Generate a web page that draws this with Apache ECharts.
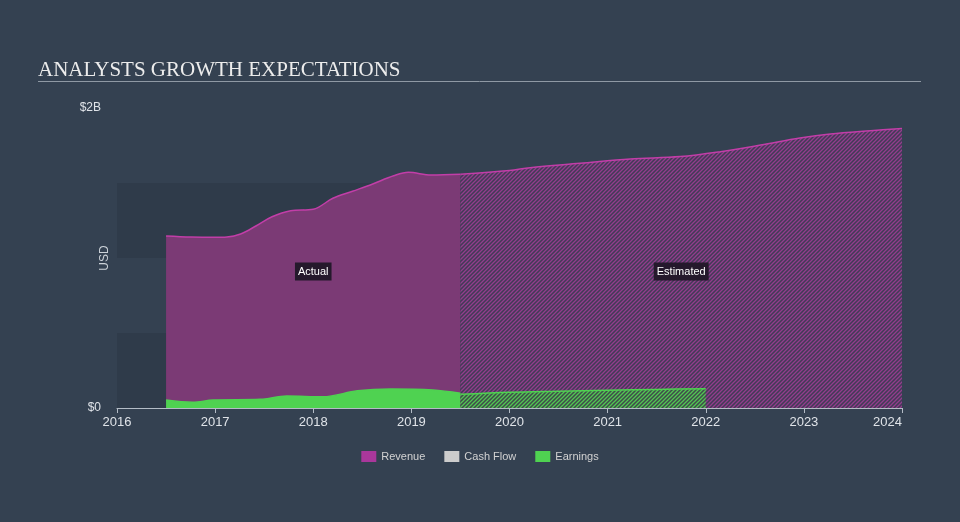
<!DOCTYPE html>
<html>
<head>
<meta charset="utf-8">
<script src="https://cdn.jsdelivr.net/npm/echarts@6/dist/echarts.min.js"></script>
<style>
html,body{margin:0;padding:0;background:#344151;}
#c{width:960px;height:522px;}
</style>
</head>
<body>
<div id="c"></div>
<script>
// ---- data (values in $ billions, x in fractional years) ----
const yearTicks = [2016, 2017, 2018, 2019, 2020, 2021, 2022, 2023, 2024];
const revActualYears = [2016.5, 2016.75, 2017.0, 2017.12, 2017.26, 2017.42, 2017.58, 2017.77, 2018.0, 2018.2, 2018.4, 2018.6, 2018.82, 2018.97, 2019.2, 2019.5];
const revActual      = [1.147, 1.140, 1.138, 1.140, 1.160, 1.215, 1.275, 1.315, 1.325, 1.398, 1.445, 1.492, 1.548, 1.571, 1.553, 1.558];
const revEstYears = [2019.5, 2020.0, 2020.21, 2020.72, 2021.23, 2021.74, 2022.15, 2022.56, 2022.96, 2023.27, 2023.68, 2024.0];
const revEst      = [1.558, 1.583, 1.602, 1.631, 1.660, 1.676, 1.709, 1.753, 1.800, 1.827, 1.849, 1.864];
const earnActualYears = [2016.5, 2016.77, 2016.98, 2017.46, 2017.73, 2018.1, 2018.45, 2018.79, 2019.22, 2019.5];
const earnActual      = [0.053, 0.038, 0.053, 0.058, 0.080, 0.075, 0.115, 0.127, 0.120, 0.098];
const earnEstYears = [2019.5, 2020.0, 2020.5, 2021.0, 2021.5, 2022.0];
const earnEst      = [0.091, 0.105, 0.112, 0.118, 0.124, 0.129];
const cashFlow = [];
const regionLabels = ['Actual', 'Estimated'];
const labelLevel = 0.91;

function pairs(xs, ys) { return xs.map((x, i) => [x, ys[i]]); }

function hatch(bg, fg) {
  const s = 4;
  const c = document.createElement('canvas');
  c.width = s; c.height = s;
  const ctx = c.getContext('2d');
  ctx.fillStyle = bg; ctx.fillRect(0, 0, s, s);
  ctx.strokeStyle = fg; ctx.lineWidth = 1.3;
  ctx.beginPath();
  ctx.moveTo(-1, s + 1); ctx.lineTo(s + 1, -1);
  ctx.moveTo(-1, 1); ctx.lineTo(1, -1);
  ctx.moveTo(s - 1, s + 1); ctx.lineTo(s + 1, s - 1);
  ctx.stroke();
  return { image: c, repeat: 'repeat' };
}

const actualMid = (revActualYears[0] + revActualYears[revActualYears.length - 1]) / 2;
const estMid = (revEstYears[0] + revEstYears[revEstYears.length - 1]) / 2;

const REV_LEGEND = '#a9379b', REV_LINE = '#c23ea8', REV_FILL = '#7b3a75';
const EARN = '#4fd251';

const labelStyle = {
  show: true, color: '#ffffff', fontSize: 11, fontFamily: 'Arial, Liberation Sans, sans-serif',
  backgroundColor: '#25192c', padding: [4, 3, 3, 3], formatter: p => p.name
};

const chart = echarts.init(document.getElementById('c'), null, { renderer: 'canvas' });
chart.setOption({
  backgroundColor: '#344151',
  animation: false,
  title: {
    text: 'ANALYSTS GROWTH EXPECTATIONS', left: 33, top: 55,
    textStyle: { fontFamily: 'Liberation Serif', fontWeight: 'normal', fontSize: 21, color: '#ececec' }
  },
  graphic: [{
    type: 'line', shape: { x1: 38, y1: 81.5, x2: 921, y2: 81.5 },
    style: { stroke: '#8f99a4', lineWidth: 1 }
  }],
  legend: {
    bottom: 55, left: 'center', itemWidth: 15, itemHeight: 11, itemGap: 19, icon: 'rect',
    textStyle: { color: '#d2d2d2', fontSize: 11, fontFamily: 'Arial, Liberation Sans, sans-serif' },
    data: ['Revenue', 'Cash Flow', 'Earnings']
  },
  grid: { left: 117, right: 58, top: 108, bottom: 114 },
  xAxis: {
    type: 'value', min: yearTicks[0], max: yearTicks[yearTicks.length - 1], interval: 1,
    axisLine: { show: true, lineStyle: { color: '#b4bcc6', width: 1 } },
    axisTick: { show: true, length: 5, lineStyle: { color: '#b4bcc6' } },
    splitLine: { show: false },
    axisLabel: {
      color: '#dfe3e8', fontSize: 13, margin: 8, fontFamily: 'Arial, Liberation Sans, sans-serif',
      formatter: v => String(Math.round(v)), alignMaxLabel: 'right'
    }
  },
  yAxis: {
    type: 'value', min: 0, max: 2, interval: 0.5,
    name: 'USD', nameLocation: 'middle', nameGap: 6, nameMoveOverlap: false,
    nameTextStyle: { color: '#ccd2d8', fontSize: 12, fontFamily: 'Arial, Liberation Sans, sans-serif' },
    axisLine: { show: false }, axisTick: { show: false },
    splitLine: { show: false },
    splitArea: { show: true, areaStyle: { color: ['#2f3b4a', 'rgba(0,0,0,0)'] } },
    axisLabel: {
      color: '#dfe3e8', fontSize: 12, margin: 16, fontFamily: 'Arial, Liberation Sans, sans-serif',
      formatter: v => (v === 0 ? '$0' : (v === 2 ? '$2B' : ''))
    }
  },
  series: [
    {
      name: 'Revenue', type: 'line', data: pairs(revActualYears, revActual),
      smooth: 0.35, showSymbol: false, z: 2,
      itemStyle: { color: REV_LEGEND },
      lineStyle: { color: REV_LINE, width: 1.5 },
      areaStyle: { color: REV_FILL, opacity: 1 },
      markPoint: {
        symbol: 'rect', symbolSize: 0, silent: true,
        label: labelStyle,
        data: [
          { name: regionLabels[0], coord: [actualMid, labelLevel] },
          { name: regionLabels[1], coord: [estMid, labelLevel] }
        ]
      }
    },
    {
      name: 'Revenue', type: 'line', data: pairs(revEstYears, revEst),
      smooth: 0.35, showSymbol: false, z: 2,
      itemStyle: { color: REV_LEGEND },
      lineStyle: { color: REV_LINE, width: 1.5 },
      areaStyle: { color: hatch('#413b56', '#933d8d'), opacity: 1 }
    },
    {
      name: 'Cash Flow', type: 'line', data: cashFlow, showSymbol: false,
      itemStyle: { color: '#cccccc' }
    },
    {
      name: 'Earnings', type: 'line', data: pairs(earnActualYears, earnActual),
      smooth: 0.35, showSymbol: false, z: 3,
      itemStyle: { color: EARN },
      lineStyle: { color: EARN, width: 1.5 },
      areaStyle: { color: EARN, opacity: 1 }
    },
    {
      name: 'Earnings', type: 'line', data: pairs(earnEstYears, earnEst),
      smooth: 0.35, showSymbol: false, z: 3,
      itemStyle: { color: EARN },
      lineStyle: { color: EARN, width: 1.5 },
      areaStyle: { color: hatch('#3f4b4a', '#52c653'), opacity: 1 }
    }
  ]
});
</script>
</body>
</html>
